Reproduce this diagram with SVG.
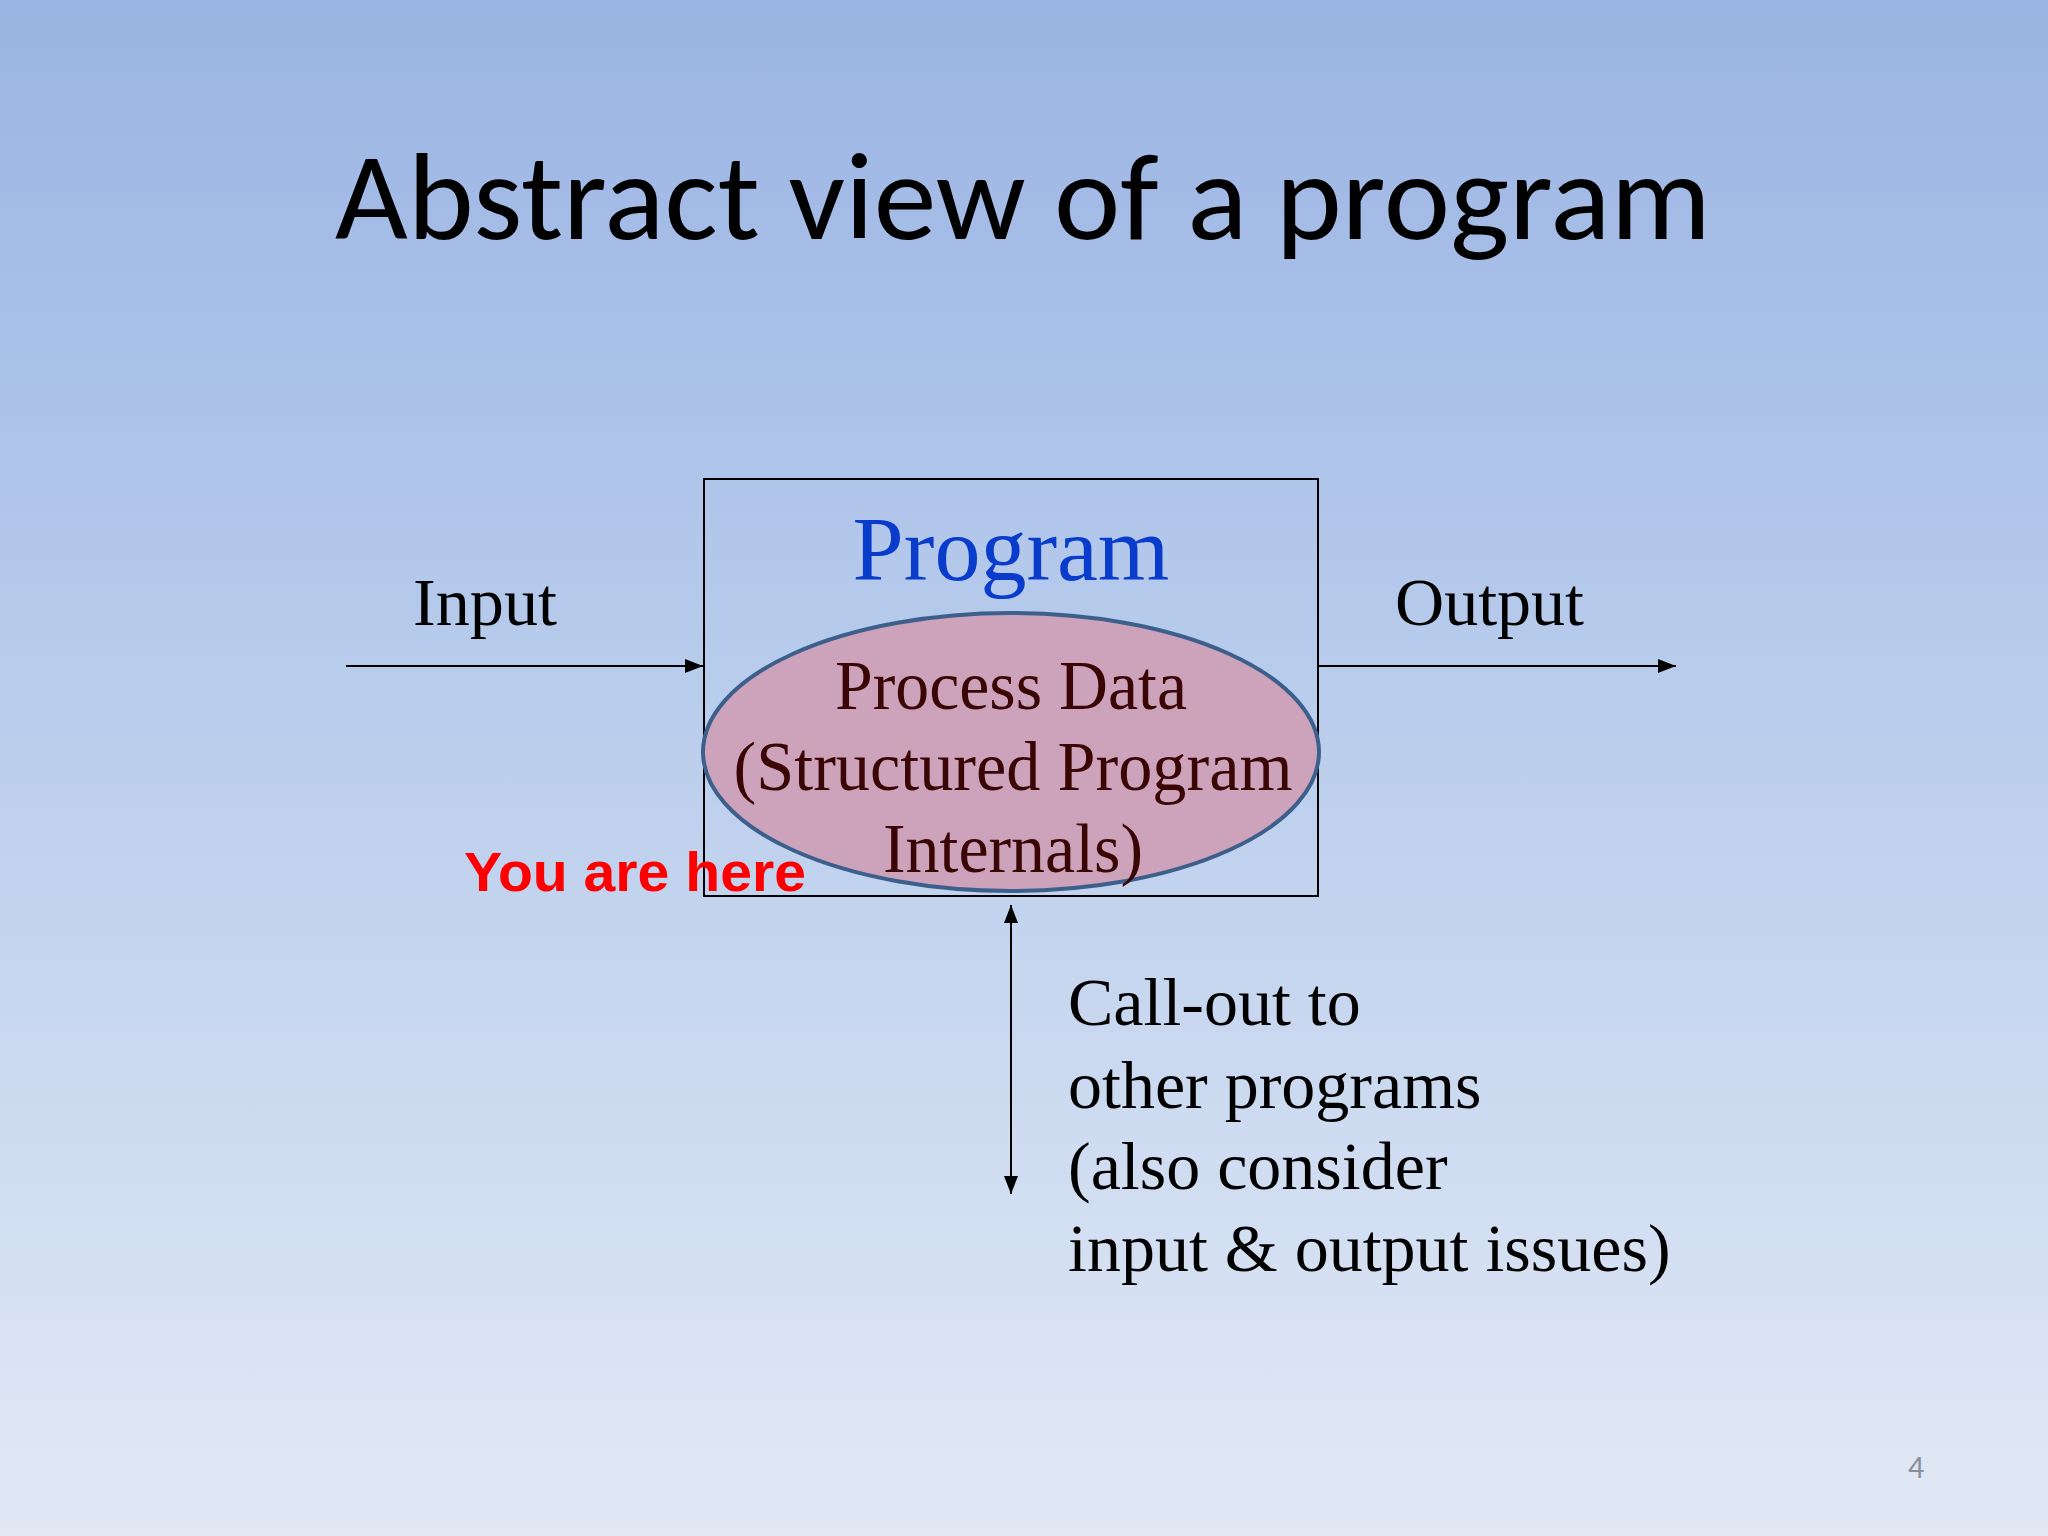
<svg xmlns="http://www.w3.org/2000/svg" width="2048" height="1536" viewBox="0 0 2048 1536">
<defs>
<linearGradient id="bg" x1="0" y1="0" x2="0" y2="1">
<stop offset="0" stop-color="#9ab4e3"/>
<stop offset="0.5" stop-color="#bccfed"/>
<stop offset="1" stop-color="#e2e9f5"/>
</linearGradient>
<marker id="ah2" markerWidth="18" markerHeight="14" refX="18" refY="7" orient="auto-start-reverse" markerUnits="userSpaceOnUse" viewBox="0 0 18 14">
<path d="M0,0 L18,7 L0,14 Z" fill="#000"/>
</marker>
<style>
.serif{font-family:"Liberation Serif","Times New Roman",serif;}
.lbl{font-size:68px;fill:#000;}
.inner{font-size:70px;fill:#3a0505;text-anchor:middle;}
.conn{stroke:#000;stroke-width:2;fill:none;}
</style>
</defs>
<rect width="2048" height="1536" fill="url(#bg)"/>
<text id="title" x="1023" y="239" text-anchor="middle" font-family="Carlito, Lato, 'Open Sans', sans-serif" font-size="124" fill="#000" textLength="1376" lengthAdjust="spacingAndGlyphs">Abstract view of a program</text>
<g id="program">
<rect x="704" y="479" width="614" height="417" fill="none" stroke="#000" stroke-width="2"/>
<text class="serif" x="1011" y="580" text-anchor="middle" font-size="92" fill="#0a3ccc">Program</text>
</g>
<g id="process">
<ellipse cx="1011" cy="752" rx="308" ry="139" fill="#cda3bb" stroke="#3d5f8c" stroke-width="4"/>
<text class="serif inner" x="1011" y="709" textLength="352" lengthAdjust="spacingAndGlyphs">Process Data</text>
<text class="serif inner" x="1013" y="790" textLength="559" lengthAdjust="spacingAndGlyphs">(Structured Program</text>
<text class="serif inner" x="1013" y="872" textLength="260" lengthAdjust="spacingAndGlyphs">Internals)</text>
</g>
<g id="input"><text class="serif lbl" x="413" y="625" textLength="144" lengthAdjust="spacingAndGlyphs">Input</text></g>
<g id="output"><text class="serif lbl" x="1395" y="625" textLength="189" lengthAdjust="spacingAndGlyphs">Output</text></g>
<g id="callout">
<text class="serif lbl" x="1068" y="1025">Call-out to</text>
<text class="serif lbl" x="1068" y="1108">other programs</text>
<text class="serif lbl" x="1068" y="1189">(also consider</text>
<text class="serif lbl" x="1068" y="1271">input &amp; output issues)</text>
</g>
<g id="here"><text x="464" y="891" font-family="'Liberation Sans', Arial, sans-serif" font-weight="bold" font-size="56" fill="#ff0000" textLength="342" lengthAdjust="spacingAndGlyphs">You are here</text></g>
<g id="connectors">
<line class="conn" x1="346" y1="666" x2="703" y2="666" marker-end="url(#ah2)"/>
<line class="conn" x1="1319" y1="666" x2="1676" y2="666" marker-end="url(#ah2)"/>
<line class="conn" x1="1011" y1="905" x2="1011" y2="1194" marker-start="url(#ah2)" marker-end="url(#ah2)"/>
</g>
<text id="pagenum" x="1916" y="1478" text-anchor="middle" font-family="Carlito, Lato, sans-serif" font-size="32" fill="#8a8f99">4</text>
</svg>
